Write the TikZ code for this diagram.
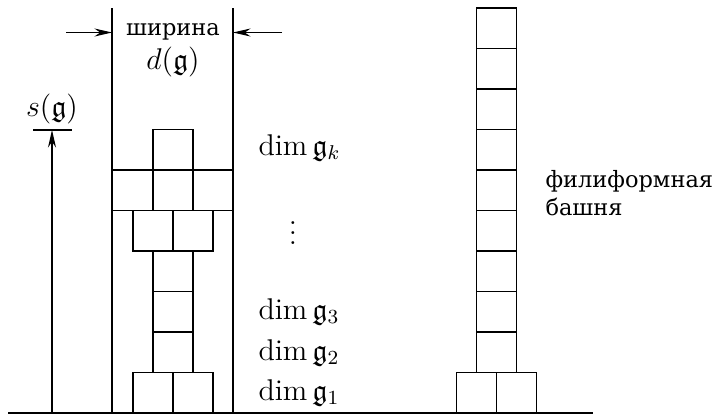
\documentclass[12pt,tikz,border=0pt]{standalone}
\usepackage{amssymb}
\usepackage{fontspec}
\newfontfamily\cyr{DejaVu Serif}
\usetikzlibrary{arrows.meta}

\begin{document}
\begin{tikzpicture}[
    x=0.4pt,y=-0.4pt,
    box/.style={line width=0.65pt},
    wall/.style={line width=0.65pt},
    arr/.style={-{Stealth[length=7pt,width=3.2pt]},line width=0.45pt},
    lbl/.style={anchor=base west,inner sep=0pt},
    rus/.style={font=\cyr\fontsize{9}{11.2}\selectfont,inner sep=0pt}
  ]
  \useasboundingbox (0,0) rectangle (718,414);

  % ground
  \coordinate (g0) at (8,413);
  \coordinate (g1) at (593,413);
  \draw[wall] (g0) -- (g1);

  % the walls of width d(g)
  \coordinate (wl) at (112,8);
  \coordinate (wr) at (233,8);
  \draw[wall] (wl) -- (wl |- g0);
  \draw[wall] (wr) -- (wr |- g0);

  \node[rus,anchor=base] (wd) at (173,35) {ширина};
  \node[anchor=base,inner sep=0pt] (dg) at (173,69) {$d(\mathfrak{g})$};
  \coordinate (al) at (66,32.5);
  \coordinate (ar) at (282,32.5);
  \draw[arr] (al) -- (al -| wl);
  \draw[arr] (ar) -- (ar -| wr);

  % height s(g)
  \node[anchor=base,inner sep=0pt] (sg) at (52,116) {$s(\mathfrak{g})$};
  \coordinate (sl) at (33,130);
  \coordinate (sr) at (72,130);
  \coordinate (st) at (52,130);
  \draw[box] (sl) -- (sr);
  \draw[arr] (st |- g0) -- (st);

  % left tower
  \foreach \a/\t in {133/372.5,173/372.5,153/332,153/291.5,153/251,
                     133/210.5,173/210.5,153/129.5}
    \draw[box] (\a,\t) rectangle ++(40,40.5);
  \foreach \a/\b in {112/153,153/193,193/233}
    \draw[box] (\a,170) rectangle (\b,210.5);

  \node[lbl] (dk) at (258,155) {$\dim\mathfrak{g}_k$};
  \node (dots) at (293,226) {$\vdots$};
  \node[lbl] (d3) at (258,319) {$\dim\mathfrak{g}_3$};
  \node[lbl] (d2) at (258,360) {$\dim\mathfrak{g}_2$};
  \node[lbl] (d1) at (258,400) {$\dim\mathfrak{g}_1$};

  % filiform tower
  \foreach \i in {0,...,8}
    \draw[box] (476.5,8+40.5*\i) rectangle ++(40,40.5);
  \foreach \a in {456.5,496.5}
    \draw[box] (\a,372.5) rectangle ++(40,40.5);

  \node[rus,anchor=base west,align=left] (fil) at (545,215)
    {филиформная\\башня};
\end{tikzpicture}
\end{document}
